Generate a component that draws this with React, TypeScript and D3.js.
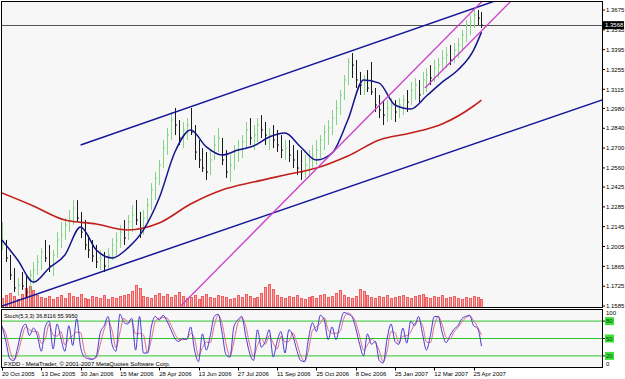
import React from 'react';
import * as d3 from 'd3';

// page / frame geometry
const W = 625;
const H = 379;
const MAIN = { left: 2, right: 602, top: 2, bottom: 307 };
const SUB = { top: 309.5, bottom: 367.5 };
const BAR_STEP = 3.93;
const FONT = 'Liberation Sans, Arial, sans-serif';

// axis labels
const dateLabels = ['20 Oct 2005', '13 Dec 2005', '30 Jan 2006', '15 Mar 2006', '28 Apr 2006', '13 Jun 2006',
  '27 Jul 2006', '11 Sep 2006', '25 Oct 2006', '8 Dec 2006', '25 Jan 2007', '12 Mar 2007', '25 Apr 2007'];
const dateLabelIdx = [0, 10, 20, 30, 40, 50, 60, 70, 80, 90, 100, 110, 120];
const priceTicks = ['1.3675', '1.3535', '1.3395', '1.3255', '1.3115', '1.2980', '1.2840', '1.2700',
  '1.2560', '1.2425', '1.2285', '1.2145', '1.2005', '1.1865', '1.1725', '1.1585'];
const lastPrice = 1.3568;

// daily bars
const highs = [
  1.2178, 1.2051, 1.1945, 1.1853, 1.1783, 1.1825, 1.1797, 1.1839, 1.1896, 1.1945,
  1.1994, 1.2051, 1.2016, 1.1980, 1.2107, 1.2178, 1.2206, 1.2263, 1.2333, 1.2333,
  1.2249, 1.2192, 1.2086, 1.2051, 1.2016, 1.1980, 1.1966, 1.1994, 1.2065, 1.2107,
  1.2157, 1.2192, 1.2227, 1.2298, 1.2333, 1.2249, 1.2263, 1.2347, 1.2453, 1.2531,
  1.2616, 1.2757, 1.2842, 1.2955, 1.2983, 1.2898, 1.2884, 1.2912, 1.2983, 1.2863,
  1.2757, 1.2700, 1.2672, 1.2686, 1.2792, 1.2842, 1.2771, 1.2686, 1.2651, 1.2722,
  1.2757, 1.2792, 1.2884, 1.2912, 1.2863, 1.2912, 1.2933, 1.2884, 1.2842, 1.2863,
  1.2828, 1.2792, 1.2757, 1.2757, 1.2722, 1.2686, 1.2686, 1.2651, 1.2686, 1.2722,
  1.2757, 1.2792, 1.2863, 1.2898, 1.2969, 1.3039, 1.3110, 1.3216, 1.3336, 1.3371,
  1.3322, 1.3237, 1.3216, 1.3251, 1.3308, 1.3124, 1.3075, 1.3039, 1.3039, 1.3053,
  1.3039, 1.3053, 1.3075, 1.3110, 1.3166, 1.3195, 1.3181, 1.3237, 1.3265, 1.3286,
  1.3322, 1.3336, 1.3392, 1.3414, 1.3428, 1.3442, 1.3477, 1.3534, 1.3604, 1.3639,
  1.3675, 1.3675, 1.3661,
];
const lows = [
  1.1980, 1.1896, 1.1769, 1.1684, 1.1656, 1.1698, 1.1641, 1.1684, 1.1740, 1.1804,
  1.1839, 1.1896, 1.1825, 1.1797, 1.1924, 1.1994, 1.2051, 1.2107, 1.2157, 1.2178,
  1.2065, 1.1980, 1.1924, 1.1896, 1.1853, 1.1839, 1.1825, 1.1853, 1.1910, 1.1945,
  1.1994, 1.2016, 1.2051, 1.2107, 1.2157, 1.2065, 1.2086, 1.2178, 1.2263, 1.2333,
  1.2439, 1.2559, 1.2651, 1.2757, 1.2792, 1.2722, 1.2700, 1.2757, 1.2792, 1.2616,
  1.2559, 1.2531, 1.2475, 1.2510, 1.2616, 1.2672, 1.2580, 1.2489, 1.2460, 1.2545,
  1.2602, 1.2630, 1.2700, 1.2722, 1.2686, 1.2743, 1.2771, 1.2722, 1.2686, 1.2700,
  1.2672, 1.2630, 1.2616, 1.2602, 1.2559, 1.2510, 1.2475, 1.2489, 1.2510, 1.2559,
  1.2580, 1.2630, 1.2686, 1.2722, 1.2792, 1.2863, 1.2933, 1.3039, 1.3145, 1.3195,
  1.3124, 1.3075, 1.3075, 1.3096, 1.3075, 1.2955, 1.2912, 1.2863, 1.2884, 1.2898,
  1.2884, 1.2912, 1.2933, 1.2955, 1.3004, 1.3039, 1.3025, 1.3075, 1.3096, 1.3145,
  1.3166, 1.3195, 1.3251, 1.3265, 1.3286, 1.3301, 1.3336, 1.3392, 1.3449, 1.3498,
  1.3548, 1.3569, 1.3548,
];
const closes = [
  1.2016, 1.1924, 1.1804, 1.1712, 1.1733, 1.1726, 1.1684, 1.1804, 1.1839, 1.1896,
  1.1966, 1.1924, 1.1867, 1.1945, 1.2051, 1.2086, 1.2157, 1.2192, 1.2277, 1.2206,
  1.2107, 1.2016, 1.1980, 1.1938, 1.1896, 1.1924, 1.1867, 1.1945, 1.2016, 1.2051,
  1.2107, 1.2065, 1.2178, 1.2227, 1.2192, 1.2122, 1.2206, 1.2298, 1.2404, 1.2489,
  1.2580, 1.2700, 1.2792, 1.2898, 1.2863, 1.2771, 1.2828, 1.2863, 1.2813, 1.2672,
  1.2616, 1.2559, 1.2531, 1.2616, 1.2722, 1.2771, 1.2616, 1.2531, 1.2580, 1.2672,
  1.2686, 1.2743, 1.2828, 1.2771, 1.2792, 1.2863, 1.2828, 1.2792, 1.2792, 1.2757,
  1.2722, 1.2686, 1.2700, 1.2651, 1.2616, 1.2559, 1.2531, 1.2580, 1.2616, 1.2651,
  1.2686, 1.2757, 1.2813, 1.2842, 1.2912, 1.2983, 1.3075, 1.3181, 1.3308, 1.3286,
  1.3181, 1.3145, 1.3166, 1.3124, 1.3096, 1.3004, 1.2969, 1.2933, 1.2983, 1.3004,
  1.2955, 1.3004, 1.3039, 1.3025, 1.3110, 1.3145, 1.3075, 1.3181, 1.3216, 1.3195,
  1.3265, 1.3286, 1.3336, 1.3357, 1.3322, 1.3392, 1.3428, 1.3498, 1.3569, 1.3590,
  1.3639, 1.3618, 1.3568,
];

// moving averages (sampled at bar indexes)
const blueMaIdx = [0, 4, 8, 12, 16, 20, 24, 28, 32, 36, 40, 44, 48, 52, 56, 60, 64, 68, 72, 76,
  80, 84, 88, 92, 96, 100, 104, 108, 112, 116, 120, 122];
const blueMa = [1.2051, 1.1910, 1.1754, 1.1853, 1.1945, 1.2143, 1.1980, 1.1924, 1.1994, 1.2122,
  1.2347, 1.2672, 1.2828, 1.2708, 1.2651, 1.2686, 1.2715, 1.2778, 1.2806, 1.2708,
  1.2616, 1.2665, 1.2898, 1.3181, 1.3159, 1.3004, 1.2976, 1.3068, 1.3166, 1.3251, 1.3392, 1.3519];
const redMaIdx = [0, 8, 16, 24, 32, 40, 48, 56, 64, 72, 80, 88, 96, 104, 112, 120, 122];
const redMa = [1.2383, 1.2291, 1.2192, 1.2164, 1.2122, 1.2171, 1.2305, 1.2404, 1.2460, 1.2510,
  1.2559, 1.2644, 1.2757, 1.2806, 1.2870, 1.2997, 1.3039];

// tick volumes
const volumes = [
  9, 12, 14, 11, 8, 13, 19, 21, 17, 12, 10, 9, 11, 8, 10, 12, 9, 14, 11, 10,
  13, 9, 8, 11, 10, 9, 12, 8, 10, 9, 11, 12, 13, 16, 22, 19, 11, 10, 9, 12,
  14, 11, 13, 10, 12, 15, 11, 9, 10, 12, 8, 11, 13, 10, 9, 12, 11, 10, 8, 9,
  12, 10, 13, 11, 9, 10, 14, 20, 23, 18, 12, 10, 9, 11, 10, 12, 9, 8, 10, 11,
  9, 12, 13, 10, 11, 14, 17, 12, 10, 9, 11, 18, 16, 12, 10, 9, 11, 10, 12, 9,
  10, 11, 12, 10, 9, 11, 12, 13, 10, 9, 11, 10, 12, 9, 10, 11, 9, 8, 10, 9,
  11, 10, 8,
];

// stochastic (5,3,3)
const stochK = [
  72, 45, 15, 12, 35, 65, 75, 55, 68, 55, 28, 70, 80, 32, 75, 50, 28, 72, 38, 84,
  35, 18, 15, 14, 20, 60, 72, 88, 40, 28, 92, 78, 75, 85, 30, 88, 25, 25, 70, 88,
  82, 90, 80, 65, 50, 45, 50, 48, 70, 30, 10, 58, 30, 55, 88, 92, 60, 22, 18, 70,
  82, 88, 55, 25, 12, 65, 35, 45, 65, 18, 45, 62, 25, 65, 55, 30, 12, 10, 50, 77,
  62, 90, 82, 48, 70, 48, 75, 95, 92, 88, 68, 40, 20, 58, 40, 45, 12, 8, 50, 75,
  45, 40, 68, 42, 80, 72, 88, 58, 30, 55, 88, 88, 60, 43, 55, 66, 72, 84, 88, 90,
  72, 68, 36.8116,
];
const stochD = [
  70, 58, 30, 14, 24, 50, 70, 65, 62, 62, 42, 49, 75, 56, 54, 62, 39, 50, 55, 61,
  60, 27, 17, 15, 17, 40, 66, 80, 64, 34, 60, 85, 77, 80, 58, 59, 56, 25, 48, 79,
  85, 86, 85, 73, 58, 48, 48, 49, 59, 50, 20, 34, 44, 43, 72, 90, 76, 41, 20, 44,
  76, 85, 72, 40, 19, 38, 50, 40, 55, 42, 32, 54, 44, 45, 60, 43, 21, 11, 30, 64,
  70, 76, 86, 65, 59, 59, 62, 85, 94, 90, 78, 54, 30, 39, 49, 43, 29, 10, 29, 62,
  60, 43, 54, 55, 61, 76, 80, 73, 44, 43, 72, 88, 74, 52, 49, 61, 69, 78, 86, 89,
  81, 70, 55.9950,
];
const stochLevels = [80, 50, 20];

// trend lines drawn on the chart: [bar index, price] anchors, extended to the right
const channelTop = [[20, 1.2722], [106.4, 1.3555]];
const channelBottom = [[0, 1.1585], [100, 1.2538]];
const magentaMain = [[45.5, 1.1585], [106.4, 1.3294]];
const magentaSecond = [[107.6, 1.3124], [126.7, 1.3659]];

export default function App() {
  const n = closes.length;
  const x = d3.scaleLinear().domain([0, n - 1]).range([MAIN.left, MAIN.left + (n - 1) * BAR_STEP]);
  const y = d3.scaleLinear().domain([1.1585, 1.3675]).range([306, 10]);
  const yVol = d3.scaleLinear().domain([0, 30]).range([MAIN.bottom, MAIN.bottom - 30]);
  const yStoch = d3.scaleLinear().domain([0, 100]).range([SUB.bottom, SUB.top]);

  const maLine = d3.line().x((d) => x(d[0])).y((d) => y(d[1])).curve(d3.curveMonotoneX);
  const stochLine = d3.line().x((d, i) => x(i)).y((d) => yStoch(d)).curve(d3.curveMonotoneX);
  const straight = d3.line().x((d) => x(d[0])).y((d) => y(d[1]));

  const ray = (pts) => {
    const [[i1, p1], [i2, p2]] = pts;
    const iEnd = 180;
    return [[i1, p1], [iEnd, p1 + ((p2 - p1) * (iEnd - i1)) / (i2 - i1)]];
  };

  const px = (i) => Math.round(x(i)) + 0.5;

  return (
    <svg width={W} height={H} style={{ position: 'absolute', left: 0, top: 0, background: '#fff' }}
      fontFamily={FONT}>
      <defs>
        <clipPath id="mainClip">
          <rect x={MAIN.left} y={MAIN.top} width={MAIN.right - MAIN.left} height={MAIN.bottom - MAIN.top} />
        </clipPath>
        <clipPath id="subClip">
          <rect x={MAIN.left} y={SUB.top} width={MAIN.right - MAIN.left} height={SUB.bottom - SUB.top} />
        </clipPath>
      </defs>

      {/* panel backgrounds */}
      <rect x={MAIN.left} y={MAIN.top} width={MAIN.right - MAIN.left} height={MAIN.bottom - MAIN.top} fill="#f7f7f7" />
      <rect x={MAIN.left} y={SUB.top} width={MAIN.right - MAIN.left} height={SUB.bottom - SUB.top} fill="#f7f7f7" />

      <g clipPath="url(#mainClip)">
        {/* volumes */}
        {volumes.map((v, i) => (
          <rect key={`v${i}`} x={Math.round(x(i)) - 1} y={yVol(v)} width={3} height={MAIN.bottom - yVol(v)} fill="#f25c5c" />
        ))}
        {volumes.map((v, i) => (
          <line key={`vs${i}`} x1={Math.round(x(i)) + 0.5} x2={Math.round(x(i)) + 0.5} y1={yVol(v) + 1} y2={MAIN.bottom}
            stroke="#fbd0d0" strokeWidth={0.6} />
        ))}

        {/* last price line */}
        <line x1={MAIN.left} x2={MAIN.right} y1={Math.round(y(lastPrice)) + 0.5} y2={Math.round(y(lastPrice)) + 0.5}
          stroke="#555" strokeWidth={1} />

        {/* bars */}
        {closes.map((c, i) => {
          const up = i === 0 ? true : c >= closes[i - 1];
          const col = up ? '#86d486' : '#1a1a1a';
          return (
            <g key={`b${i}`} stroke={col} strokeWidth={1}>
              <line x1={px(i)} x2={px(i)} y1={y(highs[i])} y2={y(lows[i])} />
              <line x1={px(i)} x2={px(i) + 1.5} y1={y(c)} y2={y(c)} />
            </g>
          );
        })}

        {/* moving averages */}
        <path d={maLine(redMaIdx.map((d, i) => [d, redMa[i]]))} fill="none" stroke="#c0201c" strokeWidth={1.6} />
        <path d={maLine(blueMaIdx.map((d, i) => [d, blueMa[i]]))} fill="none" stroke="#14148c" strokeWidth={1.5} />

        {/* trend lines */}
        <path d={straight(ray(channelTop))} fill="none" stroke="#16169a" strokeWidth={1.5} />
        <path d={straight(ray(channelBottom))} fill="none" stroke="#16169a" strokeWidth={1.5} />
        <path d={straight(ray(magentaMain))} fill="none" stroke="#cc3fcc" strokeWidth={1.3} />
        <path d={straight(ray(magentaSecond))} fill="none" stroke="#cc3fcc" strokeWidth={1.3} />
      </g>

      {/* stochastic panel */}
      <g clipPath="url(#subClip)">
        {stochLevels.map((lv) => (
          <line key={`l${lv}`} x1={MAIN.left} x2={MAIN.right} y1={yStoch(lv)} y2={yStoch(lv)} stroke="#2ec42e" strokeWidth={1} />
        ))}
        <path d={stochLine(stochD)} fill="none" stroke="#e06a8a" strokeWidth={1} />
        <path d={stochLine(stochK)} fill="none" stroke="#4a3ad0" strokeWidth={1} />
        <text x={4} y={317.5} fontSize={5.6} fill="#000">Stoch(5,3,3) 36.8116 55.9950</text>
        <text x={4} y={366} fontSize={6} fill="#000">FXDD - MetaTrader, © 2001-2007 MetaQuotes Software Corp.</text>
      </g>

      {/* frames */}
      <rect x={MAIN.left - 0.5} y={MAIN.top - 0.5} width={MAIN.right - MAIN.left + 1} height={MAIN.bottom - MAIN.top + 1}
        fill="none" stroke="#000" strokeWidth={1} />
      <rect x={MAIN.left - 0.5} y={SUB.top} width={MAIN.right - MAIN.left + 1} height={SUB.bottom - SUB.top}
        fill="none" stroke="#000" strokeWidth={1} />

      {/* price axis */}
      {priceTicks.map((t) => (
        <g key={`p${t}`}>
          <line x1={MAIN.right} x2={MAIN.right + 3} y1={y(+t)} y2={y(+t)} stroke="#000" />
          <text x={606} y={y(+t) + 2.2} fontSize={6} fill="#000">{t}</text>
        </g>
      ))}
      <rect x={603} y={y(lastPrice) - 4} width={21} height={8} fill="#000" />
      <text x={605} y={y(lastPrice) + 2.2} fontSize={6} fill="#fff">{lastPrice.toFixed(4)}</text>

      {/* stochastic axis */}
      <text x={606} y={yStoch(100) + 5} fontSize={6} fill="#000">100</text>
      <text x={606} y={yStoch(0) - 2} fontSize={6} fill="#000">0</text>
      {stochLevels.map((lv) => (
        <g key={`sl${lv}`}>
          <line x1={MAIN.right} x2={MAIN.right + 3} y1={yStoch(lv)} y2={yStoch(lv)} stroke="#000" />
          <rect x={605} y={yStoch(lv) - 4} width={9} height={8} fill="#3ee03e" />
          <text x={606} y={yStoch(lv) + 2.2} fontSize={6} fill="#004400">{lv}</text>
        </g>
      ))}

      {/* time axis */}
      {dateLabelIdx.map((idx, k) => (
        <g key={`d${idx}`}>
          <line x1={px(idx)} x2={px(idx)} y1={SUB.bottom} y2={SUB.bottom + 3} stroke="#000" />
          <text x={x(idx)} y={376} fontSize={6} fill="#000">{dateLabels[k]}</text>
        </g>
      ))}
    </svg>
  );
}
